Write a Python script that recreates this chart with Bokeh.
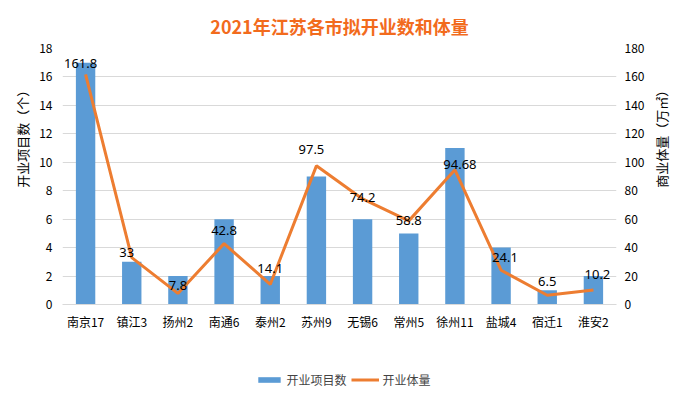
import math
from bokeh.plotting import figure
from bokeh.layouts import column, row
from bokeh.models import (ColumnDataSource, Range1d, LinearAxis, FixedTicker, LabelSet, Label,
                          Legend, LegendItem, Title, FactorRange)
from bokeh.core.properties import value
from bokeh.embed import file_html
from bokeh.resources import INLINE

# ---- data ----
cities = ["南京17", "镇江3", "扬州2", "南通6", "泰州2", "苏州9", "无锡6", "常州5", "徐州11", "盐城4", "宿迁1", "淮安2"]
projects = [17, 3, 2, 6, 2, 9, 6, 5, 11, 4, 1, 2]
volume = [161.8, 33, 7.8, 42.8, 14.1, 97.5, 74.2, 58.8, 94.68, 24.1, 6.5, 10.2]
volume_labels = ["161.8", "33", "7.8", "42.8", "14.1", "97.5", "74.2", "58.8", "94.68", "24.1", "6.5", "10.2"]
left_ticks = [0, 2, 4, 6, 8, 10, 12, 14, 16, 18]
right_ticks = [0, 20, 40, 60, 80, 100, 120, 140, 160, 180]
left_title = "开业项目数（个）"
right_title = "商业体量（万㎡）"

# label placement (screen px) – style only
label_dx = [-5, -5, 0, 0, 0, -5, 0, 0, 5, 4, 0, 4]
label_dy = [11, 5, 8, 13, 16, 16, 1, 0, 5, 13, 14, 15]

BLUE = "#5B9BD5"
ORANGE = "#ED7D31"
GRID = "#D9D9D9"
FONT = "Noto Sans CJK SC"
H = 340


def strip(width, height):
    f = figure(width=width, height=height, x_range=Range1d(0, width), y_range=Range1d(0, height),
               output_backend="svg", toolbar_location=None, min_border=0,
               min_border_left=0, min_border_right=0, min_border_top=0, min_border_bottom=0,
               outline_line_color=None, background_fill_color="white", border_fill_color="white")
    f.axis.visible = False
    f.grid.visible = False
    return f


src = ColumnDataSource(dict(city=cities, n=projects, v=volume, lab=volume_labels,
                            dx=label_dx, dy=label_dy))

p = figure(x_range=FactorRange(*cities), y_range=Range1d(0, 18),
           frame_width=554, frame_height=256,
           min_border_left=30, min_border_right=30, min_border_top=48, min_border_bottom=36,
           output_backend="svg", toolbar_location=None, background_fill_color="white",
           border_fill_color="white", outline_line_color=None)

p.extra_y_ranges = {"right": Range1d(0, 180)}

bars = p.vbar(x="city", top="n", width=0.42, source=src, fill_color=BLUE, line_color=None)
line = p.line(x="city", y="v", source=src, y_range_name="right", line_color=ORANGE, line_width=3)

labels = LabelSet(x="city", y="v", text="lab", source=src, y_range_name="right",
                  x_offset="dx", y_offset="dy", text_align="center", text_baseline="middle",
                  text_font=value("Noto Sans"), text_font_size="13px", text_color="#000000")
p.add_layout(labels)

# left axis
yl = p.yaxis[0]
yl.ticker = FixedTicker(ticks=left_ticks)
yl.axis_line_color = None
yl.major_tick_line_color = None
yl.minor_tick_line_color = None
yl.major_label_text_font = FONT
yl.major_label_text_font_size = "12px"
yl.major_label_text_color = "#000000"
yl.major_label_standoff = 4

# right axis
yr = LinearAxis(y_range_name="right", ticker=FixedTicker(ticks=right_ticks))
yr.axis_line_color = None
yr.major_tick_line_color = None
yr.minor_tick_line_color = None
yr.major_label_text_font = FONT
yr.major_label_text_font_size = "12px"
yr.major_label_text_color = "#000000"
yr.major_label_standoff = 2
p.add_layout(yr, "right")

# x axis
xa = p.xaxis[0]
xa.axis_line_color = GRID
xa.axis_line_width = 1
xa.major_tick_line_color = None
xa.minor_tick_line_color = None
xa.major_label_text_font = FONT
xa.major_label_text_font_size = "12px"
xa.major_label_text_color = "#000000"
xa.major_label_standoff = 2

p.xgrid.grid_line_color = None
p.ygrid.grid_line_color = GRID
p.ygrid.ticker = FixedTicker(ticks=left_ticks)

p.title = Title(text="2021年江苏各市拟开业数和体量", align="center", text_font=FONT,
                text_font_size="18px", text_font_style="bold", text_color="#F26B1D",
                offset=6, standoff=20)

# axis titles in narrow strips at both sides (both read bottom to top)
left = strip(32, H)
left.add_layout(Label(x=22, y=224, text=left_title, angle=math.pi / 2,
                      text_align="center", text_baseline="middle", text_font=FONT,
                      text_font_size="13px", text_color="#000000"))
side = strip(39, H)
side.add_layout(Label(x=14, y=224, text=right_title, angle=math.pi / 2,
                      text_align="center", text_baseline="middle", text_font=FONT,
                      text_font_size="13px", text_color="#000000"))

# legend strip under the chart; its renderers draw the same data but fall outside
# the strip's visible range, so only the legend shows
lg = figure(width=685, height=48, x_range=FactorRange(*cities), y_range=Range1d(1000, 1001),
            output_backend="svg", toolbar_location=None, min_border=0,
            min_border_left=0, min_border_right=0, min_border_top=0, min_border_bottom=0,
            outline_line_color=None, background_fill_color="white", border_fill_color="white")
lg.axis.visible = False
lg.grid.visible = False
lb = lg.vbar(x="city", top="n", width=0.42, source=src, fill_color=BLUE, line_color=None)
ll = lg.line(x="city", y="v", source=src, line_color=ORANGE, line_width=3)
legend = Legend(items=[LegendItem(label="开业项目数", renderers=[lb]),
                       LegendItem(label="开业体量", renderers=[ll])],
                orientation="horizontal", location="bottom_center",
                glyph_width=28, glyph_height=7, label_text_font=FONT,
                label_text_font_size="12px", label_standoff=4, spacing=4,
                padding=0, margin=0, border_line_color=None, background_fill_alpha=0)
lg.add_layout(legend, "center")

layout = column(row(left, p, side, spacing=0), lg, spacing=0)
open("out.html", "w").write(file_html(layout, INLINE))
